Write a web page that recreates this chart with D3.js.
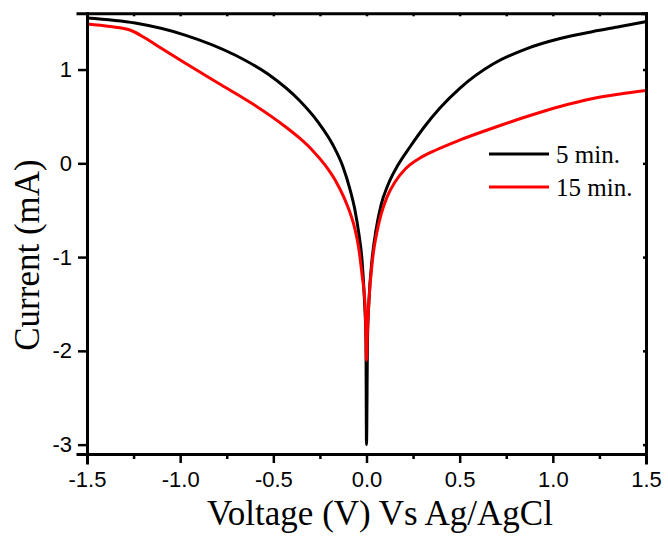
<!DOCTYPE html>
<html>
<head>
<meta charset="utf-8">
<script src="https://cdn.jsdelivr.net/npm/d3@7"></script>
<style>
  html, body { margin: 0; padding: 0; background: #fff; }
  svg { display: block; }
</style>
</head>
<body>
<svg id="chart" width="668" height="537"></svg>
<script>
// I–V sweeps (voltage in V vs Ag/AgCl, current in mA)
const voltage5 = [-1.5, -1.242, -0.974, -0.706, -0.529, -0.357, -0.26, -0.18, -0.126, -0.089, -0.062, -0.04, -0.024, -0.011, -0.003, 0,
  0.0054, 0.0134, 0.0295, 0.051, 0.078, 0.115, 0.169, 0.233, 0.314, 0.394, 0.502, 0.679, 0.861, 1.039, 1.216, 1.361, 1.5];
const current5 = [1.55, 1.496, 1.368, 1.155, 0.952, 0.664, 0.44, 0.195, -0.039, -0.274, -0.498, -0.765, -1.031, -1.458, -1.884, -3.0,
  -1.884, -1.458, -1.031, -0.711, -0.445, -0.231, -0.018, 0.174, 0.398, 0.59, 0.803, 1.059, 1.224, 1.331, 1.406, 1.459, 1.512];

const voltage15 = [-1.5, -1.376, -1.269, -1.188, -1.108, -0.974, -0.797, -0.614, -0.437, -0.357, -0.292, -0.223, -0.164, -0.121, -0.089, -0.062, -0.043, -0.024, -0.008, -0.003, 0,
  0.0054, 0.0134, 0.032, 0.054, 0.078, 0.11, 0.153, 0.212, 0.287, 0.373, 0.502, 0.679, 0.861, 1.039, 1.216, 1.361, 1.5];
const current15 = [1.486, 1.459, 1.422, 1.336, 1.235, 1.07, 0.857, 0.638, 0.393, 0.265, 0.143, -0.017, -0.193, -0.364, -0.523, -0.701, -0.887, -1.186, -1.506, -1.826, -2.1,
  -1.778, -1.458, -1.031, -0.754, -0.547, -0.361, -0.199, -0.053, 0.057, 0.142, 0.249, 0.377, 0.499, 0.606, 0.691, 0.739, 0.777];

const seriesNames = ["5 min.", "15 min."];
const seriesColors = ["#000000", "#ff0000"];

const xTicks = [-1.5, -1.0, -0.5, 0.0, 0.5, 1.0, 1.5];
const xMinorTicks = [-1.25, -0.75, -0.25, 0.25, 0.75, 1.25];
const yTicks = [-3, -2, -1, 0, 1];

const xTitle = "Voltage (V) Vs Ag/AgCl";
const yTitle = "Current (mA)";

const svg = d3.select("#chart");
const plotLeft = 87, plotRight = 646, plotTop = 13.3, plotBottom = 454;

const x = d3.scaleLinear().domain([-1.5, 1.5]).range([plotLeft, plotRight]);
const y = d3.scaleLinear().domain([-3.1, 1.6]).range([plotBottom, plotTop]);

const sansFont = "'Liberation Sans', Arial, sans-serif";
const serifFont = "'Liberation Serif', 'Times New Roman', serif";

// Curves
const line = d3.line()
  .x(d => x(d[0]))
  .y(d => y(d[1]))
  .curve(d3.curveMonotoneX);

const series = [
  d3.zip(voltage5, current5),
  d3.zip(voltage15, current15)
];

svg.append("defs").append("clipPath").attr("id", "plotClip")
  .append("rect").attr("x", plotLeft).attr("y", plotTop)
  .attr("width", plotRight - plotLeft).attr("height", plotBottom - plotTop);

const plot = svg.append("g").attr("clip-path", "url(#plotClip)");
series.forEach((pts, i) => {
  plot.append("path")
    .datum(pts)
    .attr("d", line)
    .attr("fill", "none")
    .attr("stroke", seriesColors[i])
    .attr("stroke-width", 3)
    .attr("stroke-linejoin", "round")
    .attr("stroke-linecap", "round");
});

// Bottom axis with labels and outward minor ticks
const xAxis = svg.append("g")
  .attr("transform", `translate(0,${plotBottom})`)
  .call(d3.axisBottom(x).tickValues(xTicks).tickFormat(d3.format(".1f")).tickSize(9).tickPadding(8));
svg.append("g")
  .attr("transform", `translate(0,${plotBottom})`)
  .call(d3.axisBottom(x).tickValues(xMinorTicks).tickFormat("").tickSize(5))
  .call(g => g.select(".domain").remove());

// Left axis
const yAxis = svg.append("g")
  .attr("transform", `translate(${plotLeft},0)`)
  .call(d3.axisLeft(y).tickValues(yTicks).tickFormat(d3.format("d")).tickSize(9).tickPadding(6));

// Top and right mirror axes with small inward ticks
svg.append("g")
  .attr("transform", `translate(0,${plotTop})`)
  .call(d3.axisBottom(x).tickValues(xTicks.concat(xMinorTicks)).tickFormat("").tickSize(3));
svg.append("g")
  .attr("transform", `translate(${plotRight},0)`)
  .call(d3.axisLeft(y).tickValues(yTicks).tickFormat("").tickSize(3));

svg.selectAll(".domain").attr("stroke", "#000").attr("stroke-width", 3).attr("stroke-linecap", "square");
svg.selectAll(".tick line").attr("stroke", "#000").attr("stroke-width", 2.5);
svg.selectAll(".tick text")
  .attr("font-family", sansFont)
  .attr("font-size", 22)
  .attr("fill", "#000");
// ASCII hyphen for negative tick labels
xAxis.selectAll(".tick text").text(d => d3.format(".1f")(d).replace("−", "-"));
yAxis.selectAll(".tick text").text(d => String(d).replace("−", "-"));

// Axis titles
svg.append("text")
  .attr("x", 380)
  .attr("y", 525)
  .attr("text-anchor", "middle")
  .attr("font-family", serifFont)
  .attr("font-size", 35)
  .attr("fill", "#000")
  .text(xTitle);

svg.append("text")
  .attr("transform", `translate(39,255) rotate(-90)`)
  .attr("text-anchor", "middle")
  .attr("font-family", serifFont)
  .attr("font-size", 35)
  .attr("fill", "#000")
  .text(yTitle);

// Legend
const legend = svg.append("g");
seriesNames.forEach((name, i) => {
  const ly = 154 + i * 33;
  legend.append("line")
    .attr("x1", 489).attr("x2", 549)
    .attr("y1", ly).attr("y2", ly)
    .attr("stroke", seriesColors[i])
    .attr("stroke-width", 3);
  legend.append("text")
    .attr("x", 556)
    .attr("y", ly + 8.5)
    .attr("font-family", serifFont)
    .attr("font-size", 25)
    .attr("fill", "#000")
    .text(name);
});
</script>
</body>
</html>
